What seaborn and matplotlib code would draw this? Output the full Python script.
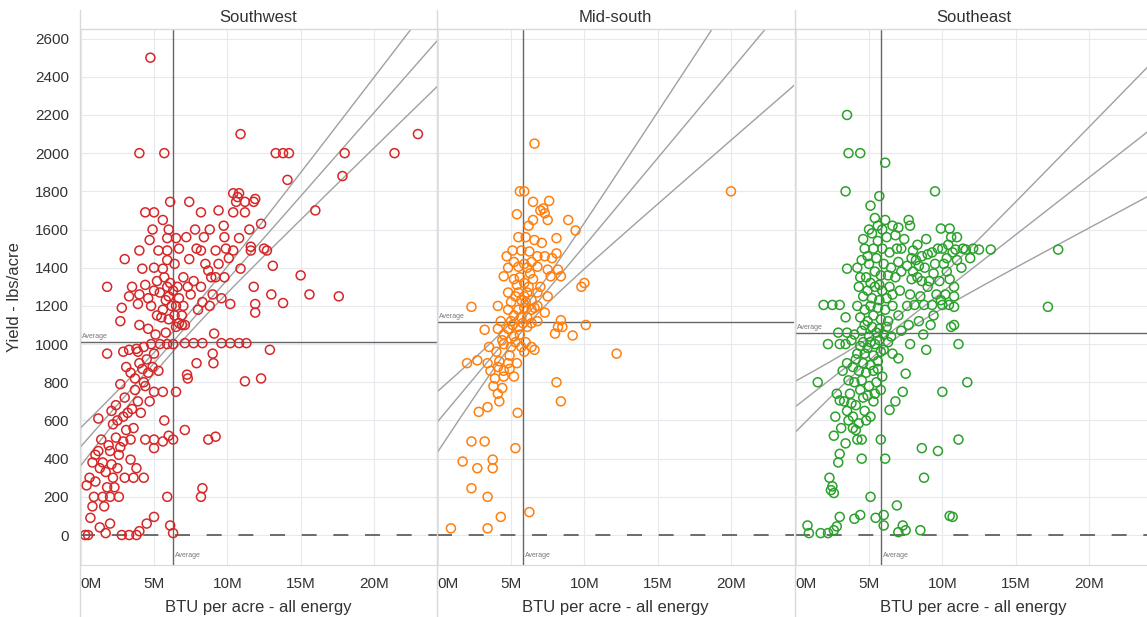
import numpy as np
import pandas as pd
import matplotlib
matplotlib.use("Agg")
import matplotlib.pyplot as plt
from matplotlib.lines import Line2D
import seaborn as sns

# Regions and colours (Tableau 10)
regions = ["Southwest", "Mid-south", "Southeast"]
colors = ["#d62728", "#ff7f0e", "#2ca02c"]

# (BTU per acre in millions, yield lbs/acre)
southwest_pts = [
    (4.75, 2500), (4.0, 2000), (5.7, 2000), (10.9, 2100), (23.0, 2100), (21.4, 2000),
    (13.3, 2000), (13.8, 2000), (14.2, 2000), (18.0, 2000), (17.85, 1880), (14.1, 1860),
    (16.0, 1700), (11.9, 1760), (12.3, 1630), (12.5, 1500), (12.7, 1490), (11.6, 1510),
    (13.1, 1410), (15.0, 1360), (11.8, 1300), (13.0, 1260), (15.6, 1260), (17.6, 1250),
    (13.8, 1215), (11.9, 1210), (11.9, 1165), (12.9, 970), (12.3, 820), (11.2, 805),
    (6.1, 1745), (7.4, 1745), (8.2, 1690), (4.4, 1690), (5.0, 1690), (10.4, 1790),
    (10.8, 1790), (10.7, 1770), (10.6, 1745), (11.2, 1745), (11.8, 1745), (10.4, 1690),
    (11.2, 1690), (5.6, 1650), (4.9, 1600), (6.0, 1600), (4.7, 1545), (5.9, 1555),
    (6.5, 1555), (7.2, 1560), (8.8, 1600), (9.75, 1620), (9.8, 1560), (10.8, 1555),
    (4.0, 1490), (5.3, 1490), (5.9, 1490), (6.7, 1500), (7.9, 1500), (8.2, 1490),
    (9.2, 1490), (9.9, 1500), (10.4, 1490), (11.6, 1490), (3.0, 1445), (5.9, 1440),
    (7.4, 1445), (4.2, 1395), (5.0, 1400), (5.6, 1395), (8.5, 1420), (8.7, 1385),
    (9.2, 1350), (8.9, 1350), (10.9, 1395), (9.8, 1350), (1.8, 1300),
    (3.5, 1300), (4.0, 1260), (3.3, 1250), (4.6, 1240), (5.4, 1270), (5.9, 1300),
    (6.3, 1280), (6.7, 1240), (7.5, 1260), (8.2, 1300), (9.0, 1260), (9.6, 1240),
    (8.3, 1220), (6.0, 1250), (5.8, 1230), (6.1, 1320), (6.2, 1200), (4.8, 1200),
    (3.9, 1210), (2.8, 1190), (7.0, 1200), (8.8, 1200), (10.2, 1210), (6.4, 1150),
    (6.9, 1150), (2.7, 1120), (4.0, 1100), (6.7, 1110), (6.5, 1090), (6.9, 1100),
    (7.1, 1100), (5.5, 1140), (5.8, 1060), (5.1, 1050), (9.1, 1055), (4.6, 1080),
    (3.3, 970), (3.8, 975), (4.3, 985), (4.8, 1000), (5.4, 1000), (5.9, 1000),
    (6.3, 1000), (7.1, 1005), (7.7, 1005), (8.3, 1005), (9.6, 1005), (10.2, 1005),
    (10.8, 1005), (11.3, 1005), (1.8, 950), (9.0, 950), (9.05, 900), (7.9, 900),
    (5.0, 950), (4.5, 920), (3.9, 960), (7.25, 840), (7.3, 820), (6.5, 750),
    (5.0, 750), (5.6, 750), (3.4, 850), (2.7, 790), (3.7, 760), (4.3, 800),
    (4.6, 850), (4.0, 900), (4.4, 780), (3.9, 700), (3.0, 720), (2.4, 680),
    (1.2, 610), (2.1, 650), (2.9, 620), (3.5, 660), (2.2, 580), (5.7, 600),
    (7.1, 550), (8.7, 500), (9.2, 515), (4.4, 500), (5.0, 500), (5.6, 490),
    (6.0, 520), (6.3, 500), (5.0, 455), (1.4, 500), (1.9, 470), (2.4, 510),
    (2.9, 490), (3.4, 500), (1.2, 440), (2.0, 440), (2.6, 420), (3.4, 395),
    (3.8, 350), (3.6, 300), (4.3, 300), (0.8, 380), (1.3, 350), (0.6, 300),
    (1.7, 330), (2.1, 370), (1.0, 280), (0.4, 260), (0.9, 200), (1.5, 200),
    (2.0, 200), (0.8, 150), (1.6, 150), (2.6, 200), (5.9, 200), (8.3, 245),
    (8.2, 200), (0.66, 90), (5.0, 95), (1.3, 40), (2.0, 60), (1.7, 10),
    (2.8, 0), (3.3, 0), (4.0, 20), (4.5, 60), (6.3, 10), (6.1, 50),
    (0.3, 0), (0.5, 0), (3.8, 0),
    (1.0, 420), (1.5, 380), (2.2, 300), (2.5, 350), (1.8, 250), (2.3, 250),
    (3.0, 300), (2.7, 460), (3.1, 550), (3.6, 560), (2.5, 600), (3.2, 640),
    (4.1, 640), (3.7, 820), (4.2, 870), (4.9, 880), (3.1, 880), (2.9, 960),
    (4.7, 700), (5.3, 860), (5.2, 1150), (5.6, 1180), (6.0, 1130), (6.6, 1300),
    (7.0, 1350), (6.4, 1420), (5.7, 1350), (5.2, 1330), (7.7, 1330), (8.0, 1180),
    (6.5, 1200), (7.3, 1300), (5.0, 1280), (4.4, 1310), (9.4, 1420), (10.1, 1450),
    (8.4, 1560), (7.8, 1600), (9.4, 1700), (11.5, 1600),
]

midsouth_pts = [
    (6.6, 2050), (12.2, 950), (20.0, 1800),
    (5.6, 1800), (5.9, 1800), (6.5, 1745), (7.6, 1750), (7.0, 1700), (7.3, 1685),
    (7.2, 1710), (6.5, 1650), (7.5, 1650), (8.9, 1650), (9.4, 1595),
    (5.5, 1560), (6.0, 1560), (6.6, 1545), (8.1, 1555), (5.1, 1490), (5.7, 1490),
    (6.25, 1485), (6.8, 1460), (7.3, 1460), (8.1, 1475),
    (4.8, 1400), (5.5, 1405), (6.1, 1400), (6.8, 1405), (7.5, 1390), (8.2, 1390),
    (5.2, 1430), (6.4, 1430),
    (4.5, 1355), (5.2, 1340), (5.9, 1320), (6.5, 1340), (7.0, 1300), (7.7, 1355),
    (8.4, 1355), (10.0, 1320), (9.8, 1300),
    (4.8, 1270), (5.5, 1270), (6.1, 1270), (6.8, 1270), (7.5, 1250), (5.7, 1230),
    (6.4, 1230), (5.0, 1220), (5.9, 1250), (6.2, 1300), (5.4, 1310),
    (2.3, 1195), (4.1, 1200), (4.8, 1180), (5.5, 1180), (6.4, 1180), (7.3, 1165),
    (6.8, 1200), (5.9, 1190), (5.2, 1150), (6.1, 1140),
    (3.2, 1075), (4.1, 1080), (4.8, 1080), (5.5, 1090), (6.1, 1090), (4.5, 1050),
    (5.2, 1040), (5.8, 1110), (6.4, 1110), (5.0, 1120), (4.3, 1120),
    (8.4, 1125), (8.2, 1090), (8.0, 1055), (9.2, 1045), (10.1, 1100), (8.5, 1090),
    (3.5, 985), (5.0, 985), (5.7, 985), (6.4, 985), (6.6, 970), (4.5, 1000),
    (5.3, 1010), (6.0, 1010), (4.0, 960), (5.9, 960),
    (2.0, 900), (2.7, 915), (3.4, 900), (4.1, 880), (4.5, 860), (4.9, 870),
    (5.2, 830), (4.5, 830), (3.9, 820), (3.6, 860), (4.8, 900), (5.4, 900),
    (8.1, 800), (8.4, 700), (4.1, 740), (4.2, 700), (3.8, 780), (4.4, 770),
    (2.8, 645), (3.4, 670), (5.45, 640),
    (2.3, 490), (3.2, 490), (5.3, 455), (1.7, 385), (2.7, 350), (3.75, 395),
    (3.75, 350), (2.3, 245), (3.4, 200), (4.3, 95), (6.25, 120), (0.9, 35), (3.4, 35),
    (5.6, 1350), (5.9, 1420), (6.3, 1370), (5.3, 1250), (6.0, 1220), (6.6, 1190),
    (5.7, 1140), (5.1, 1100), (6.8, 1120), (4.4, 1020), (5.6, 1050), (4.9, 940),
    (4.2, 910), (7.8, 1450), (7.1, 1530), (6.2, 1620), (5.4, 1680), (4.7, 1460),
]

southeast_pts = [
    (3.5, 2200), (3.6, 2000), (4.4, 2000), (6.1, 1950), (3.4, 1800), (9.5, 1800),
    (5.7, 1775), (5.1, 1725),
    (5.4, 1660), (6.1, 1650), (5.6, 1620), (6.6, 1620), (7.0, 1610), (7.7, 1650),
    (7.8, 1620), (6.8, 1570), (5.2, 1580), (5.9, 1600),
    (9.9, 1605), (10.5, 1605), (11.0, 1560), (10.6, 1560),
    (4.7, 1500), (5.3, 1500), (5.9, 1500), (6.4, 1480), (7.2, 1500), (8.0, 1490),
    (8.6, 1460), (9.3, 1480), (10.0, 1500), (10.7, 1480), (11.4, 1500), (10.9, 1495),
    (11.6, 1495), (12.5, 1495), (13.3, 1495), (17.9, 1495),
    (3.5, 1395), (4.2, 1400), (4.5, 1440), (5.0, 1420), (5.5, 1450), (6.0, 1420),
    (6.5, 1400), (7.0, 1430), (7.6, 1410), (8.2, 1440), (8.8, 1400), (9.5, 1420),
    (10.3, 1380), (5.8, 1360), (4.8, 1350), (6.8, 1350), (7.9, 1340), (9.1, 1330),
    (4.3, 1300), (4.9, 1280), (5.4, 1300), (5.9, 1280), (6.4, 1300), (7.1, 1280),
    (7.8, 1260), (8.5, 1250), (10.8, 1300), (4.6, 1250), (5.2, 1240), (5.7, 1230),
    (6.2, 1240), (10.8, 1250), (9.6, 1260),
    (1.9, 1205), (2.5, 1205), (3.0, 1205), (4.2, 1200), (4.7, 1180), (5.1, 1200),
    (5.6, 1190), (6.1, 1180), (6.6, 1200), (8.1, 1205), (8.75, 1205), (9.3, 1205),
    (10.0, 1205), (10.45, 1205), (17.2, 1195), (10.8, 1195),
    (3.4, 1140), (4.4, 1140), (4.9, 1120), (5.3, 1150), (5.8, 1130), (6.3, 1120),
    (7.0, 1150), (7.7, 1100), (8.4, 1120), (9.4, 1150), (10.6, 1090), (10.8, 1100),
    (2.9, 1060), (3.5, 1060), (4.0, 1050), (4.5, 1070), (5.0, 1040), (5.5, 1060),
    (6.0, 1050), (6.5, 1040), (7.2, 1070), (3.8, 1020),
    (2.2, 1000), (3.0, 1000), (3.4, 1000), (4.4, 990), (4.9, 980), (5.4, 1000),
    (6.0, 970), (7.8, 1000), (8.9, 970), (11.1, 1000), (6.6, 950), (7.0, 925),
    (3.5, 900), (4.1, 920), (4.6, 900), (5.1, 890), (5.6, 910), (4.3, 860),
    (4.8, 850), (5.3, 860), (5.9, 830), (7.5, 845), (4.0, 800), (4.5, 810),
    (5.0, 780), (5.5, 800), (1.5, 800), (11.7, 800),
    (7.3, 750), (10.0, 750), (6.8, 700), (6.4, 655), (3.0, 705), (3.5, 650),
    (3.9, 620), (4.3, 585), (4.8, 600), (3.3, 700), (4.1, 680), (4.6, 720),
    (5.3, 700), (3.7, 740), (2.8, 740),
    (4.1, 550), (4.5, 500), (4.2, 500), (5.8, 500), (11.1, 500), (3.0, 425),
    (4.5, 400), (6.1, 400), (8.6, 455), (9.7, 440),
    (8.75, 300), (2.3, 300), (2.5, 255), (2.6, 220), (2.4, 235), (5.1, 200),
    (6.9, 155), (5.45, 90),
    (3.0, 95), (4.0, 85), (4.4, 105), (6.0, 105), (7.3, 50), (10.5, 100), (10.7, 95),
    (0.8, 50), (0.9, 10), (1.7, 10), (2.2, 10), (2.6, 25), (2.8, 45), (6.0, 50),
    (7.0, 15), (7.5, 25), (8.5, 25),
    (4.6, 1550), (5.0, 1600), (5.6, 1540), (6.2, 1560), (4.9, 1460), (5.4, 1380),
    (6.3, 1360), (4.4, 1350), (5.1, 1320), (5.7, 1310), (6.6, 1260), (4.7, 1100),
    (5.2, 1090), (5.7, 1080), (6.2, 1090), (4.6, 1010), (5.1, 1010), (5.7, 1020),
    (6.3, 1010), (4.2, 950), (4.7, 950), (5.3, 940), (5.8, 960), (3.9, 880),
    (5.6, 870), (4.4, 760), (4.9, 730), (5.4, 740), (5.8, 760), (3.9, 560),
    (4.7, 650), (5.1, 620), (3.6, 600),
    (8.3, 1350), (9.0, 1300), (9.8, 1330), (10.3, 1450), (9.7, 1500), (8.9, 1550),
    (8.3, 1520), (7.4, 1550), (10.2, 1260), (9.2, 1100), (8.7, 1050), (7.6, 1200),
    (11.3, 1400), (11.9, 1450), (7.9, 1450), (6.9, 1500),
    (8.0, 1380), (8.6, 1330), (9.4, 1370), (10.1, 1420), (10.5, 1340), (9.0, 1470),
    (8.4, 1410), (11.0, 1440), (9.9, 1230), (7.2, 1380), (12.1, 1500), (10.4, 1520),
    (2.7, 620), (3.1, 560), (3.4, 480), (2.9, 380), (3.6, 810), (3.2, 860),
    (2.6, 520), (3.8, 690),
]

# Reference average lines per region
avg_btu = [6.3, 5.8, 5.8]
avg_yield = [1010, 1116, 1057]

y_ticks = list(range(0, 2601, 200))
x_ticks = [0, 5, 10, 15, 20]
x_tick_labels = ["0M", "5M", "10M", "15M", "20M"]

frames = []
for name, pts in zip(regions, [southwest_pts, midsouth_pts, southeast_pts]):
    d = pd.DataFrame(pts, columns=["btu", "yield"])
    d["region"] = name
    frames.append(d)
df = pd.concat(frames, ignore_index=True)

sns.set_theme(style="whitegrid")
plt.rcParams["font.family"] = ["Liberation Sans", "DejaVu Sans"]

W, H = 1147, 617
fig = plt.figure(figsize=(W / 100, H / 100), dpi=100)
top_px, bot_px = 30, 565
lefts = [80, 437, 795]
pw = 357
txt = "#333333"

for i, name in enumerate(regions):
    ax = fig.add_axes([lefts[i] / W, 1 - bot_px / H, pw / W, (bot_px - top_px) / H])
    sub = df[df.region == name]

    # trend line with 95% confidence band lines
    x = sub["btu"].values
    y = sub["yield"].values
    n = len(x)
    b, a = np.polyfit(x, y, 1)
    s = np.sqrt(np.sum((y - (a + b * x)) ** 2) / (n - 2))
    xs = np.linspace(-0.5, 25, 200)
    se = s * np.sqrt(1 / n + (xs - x.mean()) ** 2 / np.sum((x - x.mean()) ** 2))
    fit = a + b * xs
    for yy in (fit, fit + 1.97 * se, fit - 1.97 * se):
        ax.plot(xs, yy, color="#a0a0a0", lw=1.0, zorder=2)

    ax.axhline(0, color="#555555", lw=1.2, ls=(0, (9, 10)), zorder=2)
    ax.axvline(avg_btu[i], color="#666666", lw=1.0, zorder=2)
    ax.axhline(avg_yield[i], color="#666666", lw=1.0, zorder=2)

    sns.scatterplot(data=sub, x="btu", y="yield", ax=ax, marker="o", s=42,
                    facecolor="none", edgecolor=colors[i], linewidth=1.1, zorder=3)

    ax.text(0.006, avg_yield[i] + 12, "Average", transform=ax.get_yaxis_transform(),
            fontsize=5, color="#777777", va="bottom", ha="left")
    ax.text(avg_btu[i] + 0.15, -105, "Average", fontsize=5, color="#777777",
            va="center", ha="left")

    ax.set_xlim(-0.05, 24.3)
    ax.set_ylim(-157, 2645)
    ax.set_yticks(y_ticks)
    ax.set_xticks(x_ticks)
    ax.set_xticklabels(x_tick_labels)
    ax.get_xticklabels()[0].set_ha("left")
    ax.tick_params(axis="both", length=0, labelsize=11, colors=txt)
    ax.tick_params(axis="x", pad=9)
    ax.tick_params(axis="y", pad=8, labelleft=(i == 0))
    ax.grid(True, color="#e6e9ed", lw=0.8)
    for sp in ax.spines.values():
        sp.set_visible(False)
    ax.set_xlabel("BTU per acre - all energy", fontsize=12, color=txt, labelpad=6)
    ax.set_ylabel("")

    fig.text((lefts[i] + pw / 2) / W, 1 - 17 / H, name, fontsize=12, color=txt,
             ha="center", va="center")

fig.text(15 / W, 1 - 297 / H, "Yield - lbs/acre", rotation=90, fontsize=12,
         color=txt, ha="center", va="center")

# panel separators and header rule
sep = "#d9d9d9"
for lp in lefts:
    fig.add_artist(Line2D([lp / W, lp / W], [0, 1 - 10 / H], color=sep, lw=1))
fig.add_artist(Line2D([80 / W, 1], [1 - 29 / H, 1 - 29 / H], color=sep, lw=1))
fig.add_artist(Line2D([80 / W, 1], [1 - 565 / H, 1 - 565 / H], color=sep, lw=0.8))

fig.savefig("out.png", dpi=100)
